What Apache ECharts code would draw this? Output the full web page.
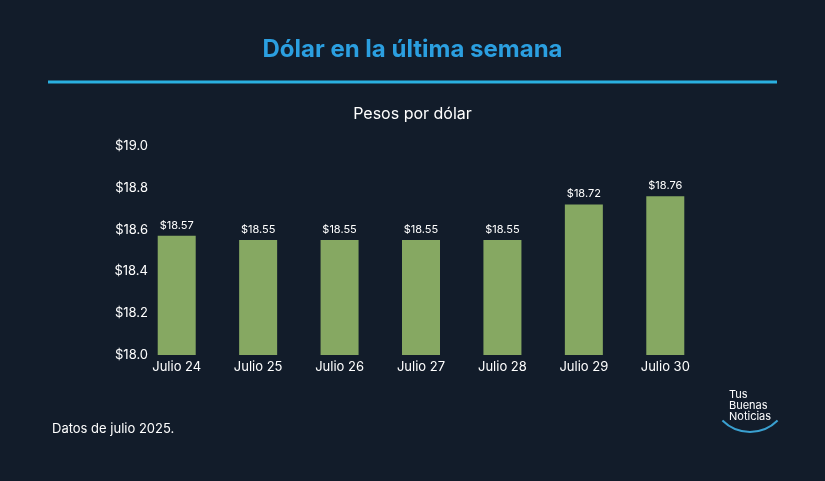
<!DOCTYPE html>
<html><head><meta charset="utf-8">
<script src="https://cdn.jsdelivr.net/npm/echarts@6/dist/echarts.min.js"></script>
<style>html,body{margin:0;background:#121c2a}#c{width:825px;height:481px}</style>
</head><body><div id="c"></div>
<script>
const days = ['Julio 24', 'Julio 25', 'Julio 26', 'Julio 27', 'Julio 28', 'Julio 29', 'Julio 30'];
const rates = [18.57, 18.55, 18.55, 18.55, 18.55, 18.72, 18.76];

const chart = echarts.init(document.getElementById('c'));
const font = 'Inter, "Noto Sans", sans-serif';
chart.setOption({
  backgroundColor: '#121c2a',
  textStyle: { fontFamily: font },
  title: [
    { text: 'Dólar en la última semana', left: 'center', top: 33,
      textStyle: { color: '#2b9fe0', fontSize: 24, fontWeight: 'bold', fontFamily: font } },
    { text: 'Pesos por dólar', left: 'center', top: 101,
      textStyle: { color: '#ffffff', fontSize: 16, fontWeight: 'normal', fontFamily: font } },
    { text: 'Datos de julio 2025.', left: 47, top: 418,
      textStyle: { color: '#ffffff', fontSize: 13, fontWeight: 'normal', fontFamily: font } },
    { text: 'Tus\nBuenas\nNoticias', left: 724, top: 384,
      textStyle: { color: '#ffffff', fontSize: 11, lineHeight: 11, fontWeight: 'normal', fontFamily: font } }
  ],
  graphic: [
    { type: 'line', shape: { x1: 48, y1: 82, x2: 777, y2: 82 }, style: { stroke: '#2ab0e0', lineWidth: 3 } },
    { type: 'arc', shape: { cx: 750, cy: 393, r: 39, startAngle: Math.PI * 0.25, endAngle: Math.PI * 0.75 },
      style: { stroke: '#3aa0d0', lineWidth: 2, fill: null } }
  ],
  grid: { left: 136, right: 119, top: 146, bottom: 126 },
  xAxis: {
    type: 'category', data: days,
    axisLine: { show: false }, axisTick: { show: false },
    axisLabel: { color: '#ffffff', fontSize: 13, margin: 6 }
  },
  yAxis: {
    type: 'value', min: 18, max: 19, interval: 0.2, offset: -12,
    splitLine: { show: false }, axisLine: { show: false }, axisTick: { show: false },
    axisLabel: { color: '#ffffff', fontSize: 13, margin: 0, formatter: v => '$' + v.toFixed(1) }
  },
  series: [{
    type: 'bar', data: rates, barWidth: 38,
    itemStyle: { color: '#86a862' },
    label: { show: true, position: 'top', color: '#ffffff', fontSize: 11, formatter: p => '$' + p.value.toFixed(2) }
  }]
});
</script></body></html>
